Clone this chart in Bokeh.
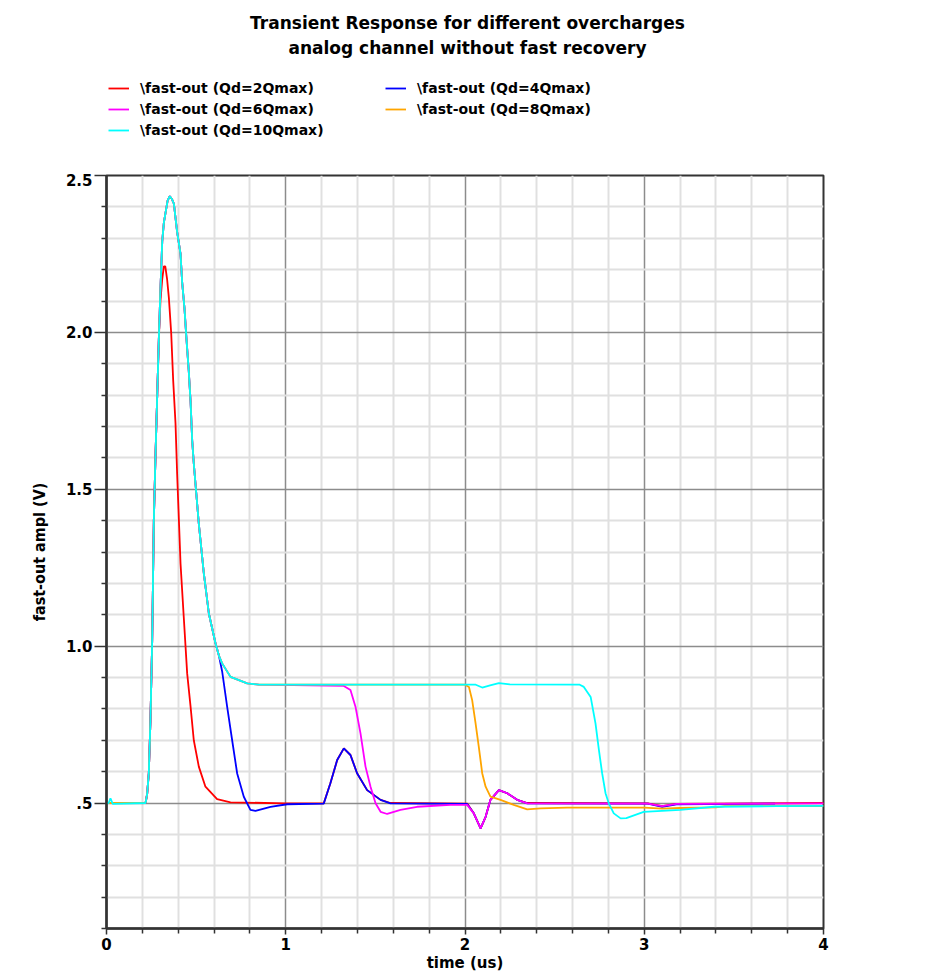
from bokeh.plotting import figure
from bokeh.models import Range1d, FixedTicker, Legend, LegendItem, Label, ColumnDataSource
from bokeh.layouts import column
from bokeh.embed import file_html
from bokeh.resources import INLINE

# ---------------- data ----------------
title_line1 = "Transient Response for different overcharges"
title_line2 = "analog channel without fast recovery"
x_label = "time (us)"
y_label = "fast-out ampl (V)"

x_major_ticks = [0, 1, 2, 3, 4]
x_minor_ticks = [0.2, 0.4, 0.6, 0.8, 1.2, 1.4, 1.6, 1.8, 2.2, 2.4, 2.6, 2.8, 3.2, 3.4, 3.6, 3.8]
y_major_ticks = [0.5, 1.0, 1.5, 2.0, 2.5]
y_tick_labels = [".5", "1.0", "1.5", "2.0", "2.5"]
y_minor_ticks = [0.1, 0.2, 0.3, 0.4, 0.6, 0.7, 0.8, 0.9, 1.1, 1.2, 1.3, 1.4, 1.6, 1.7, 1.8, 1.9,
                 2.1, 2.2, 2.3, 2.4]

labels = ["\\fast-out (Qd=2Qmax)", "\\fast-out (Qd=4Qmax)", "\\fast-out (Qd=6Qmax)",
          "\\fast-out (Qd=8Qmax)", "\\fast-out (Qd=10Qmax)"]
colors = ["#ff0000", "#0000ff", "#ff00ff", "#ffa500", "#00ffff"]

# Qd = 2Qmax
t_2q = [0.0, 0.218, 0.227, 0.236, 0.245, 0.255, 0.264, 0.274, 0.283, 0.292, 0.301, 0.311, 0.320,
        0.328, 0.338, 0.348, 0.361, 0.372, 0.385, 0.394, 0.404, 0.413, 0.431, 0.450, 0.469, 0.487,
        0.515, 0.552, 0.617, 0.692, 1.0, 1.212, 1.249, 1.287, 1.324, 1.361, 1.398, 1.454, 1.529,
        1.584, 2.012, 2.049, 2.087, 2.115, 2.142, 2.189, 2.236, 2.291, 2.347, 3.02, 3.10, 3.18, 4.0]
v_2q = [0.5, 0.5, 0.53, 0.595, 0.76, 1.02, 1.40, 1.62, 1.80, 1.98, 2.10, 2.17, 2.21,
        2.21, 2.17, 2.11, 1.997, 1.847, 1.71, 1.55, 1.40, 1.263, 1.093, 0.913, 0.807, 0.70,
        0.616, 0.552, 0.512, 0.502, 0.499, 0.499, 0.563, 0.637, 0.674, 0.653, 0.595, 0.541, 0.51,
        0.50, 0.498, 0.467, 0.419, 0.456, 0.51, 0.541, 0.531, 0.51, 0.50, 0.499, 0.49, 0.497, 0.50]

# Qd = 4Qmax
t_4q = [0.0, 0.218, 0.227, 0.236, 0.245, 0.255, 0.264, 0.274, 0.283, 0.292, 0.301, 0.311, 0.320,
        0.329, 0.341, 0.353, 0.365, 0.376, 0.394, 0.413, 0.422, 0.435, 0.446, 0.459, 0.469, 0.478,
        0.487, 0.515, 0.543, 0.571, 0.608, 0.627, 0.645, 0.673, 0.701, 0.729, 0.766, 0.803, 0.831,
        0.915, 1.008, 1.212, 1.249, 1.287, 1.324, 1.361, 1.398, 1.454, 1.529, 1.584, 2.012, 2.049,
        2.087, 2.115, 2.142, 2.189, 2.236, 2.291, 2.347, 3.02, 3.10, 3.18, 3.73]
v_4q = [0.5, 0.5, 0.53, 0.595, 0.76, 1.02, 1.40, 1.62, 1.80, 1.98, 2.14, 2.29, 2.35,
        2.38, 2.42, 2.434, 2.425, 2.41, 2.32, 2.25, 2.16, 2.077, 1.98, 1.876, 1.78, 1.656,
        1.582, 1.39, 1.232, 1.104, 1.009, 0.97, 0.92, 0.807, 0.70, 0.594, 0.52, 0.478, 0.475,
        0.488, 0.496, 0.498, 0.563, 0.637, 0.674, 0.653, 0.595, 0.541, 0.51, 0.499, 0.497, 0.467,
        0.419, 0.456, 0.51, 0.541, 0.531, 0.51, 0.499, 0.498, 0.488, 0.496, 0.498]

# Qd = 6Qmax
t_6q = [0.0, 0.218, 0.227, 0.236, 0.245, 0.255, 0.264, 0.274, 0.283, 0.292, 0.301, 0.311, 0.320,
        0.329, 0.341, 0.353, 0.365, 0.376, 0.394, 0.413, 0.422, 0.435, 0.446, 0.459, 0.469, 0.478,
        0.487, 0.515, 0.543, 0.571, 0.608, 0.627, 0.645, 0.692, 0.785, 0.85, 1.324, 1.361, 1.389,
        1.417, 1.445, 1.473, 1.501, 1.529, 1.566, 1.64, 1.733, 1.919, 2.012, 2.049, 2.087, 2.115,
        2.142, 2.189, 2.236, 2.291, 2.347, 3.02, 3.10, 3.18, 4.0]
v_6q = [0.5, 0.5, 0.53, 0.595, 0.76, 1.02, 1.40, 1.62, 1.80, 1.98, 2.14, 2.29, 2.35,
        2.38, 2.42, 2.434, 2.425, 2.41, 2.32, 2.25, 2.16, 2.077, 1.98, 1.876, 1.78, 1.656,
        1.582, 1.39, 1.232, 1.104, 1.009, 0.97, 0.945, 0.902, 0.881, 0.877, 0.873, 0.86, 0.807,
        0.722, 0.616, 0.552, 0.499, 0.472, 0.465, 0.478, 0.488, 0.494, 0.494, 0.467, 0.419, 0.456,
        0.51, 0.541, 0.531, 0.51, 0.499, 0.498, 0.49, 0.497, 0.499]

# Qd = 8Qmax
t_8q = [0.0, 0.218, 0.227, 0.236, 0.245, 0.255, 0.264, 0.274, 0.283, 0.292, 0.301, 0.311, 0.320,
        0.329, 0.341, 0.353, 0.365, 0.376, 0.394, 0.413, 0.422, 0.435, 0.446, 0.459, 0.469, 0.478,
        0.487, 0.515, 0.543, 0.571, 0.608, 0.627, 0.645, 0.692, 0.785, 0.85, 2.0, 2.022, 2.04,
        2.059, 2.077, 2.096, 2.115, 2.142, 2.198, 2.272, 2.347, 2.421, 2.57, 3.0, 3.10, 3.20, 3.40,
        3.45, 4.0]
v_8q = [0.5, 0.5, 0.53, 0.595, 0.76, 1.02, 1.40, 1.62, 1.80, 1.98, 2.14, 2.29, 2.35,
        2.38, 2.42, 2.434, 2.425, 2.41, 2.32, 2.25, 2.16, 2.077, 1.98, 1.876, 1.78, 1.656,
        1.582, 1.39, 1.232, 1.104, 1.009, 0.97, 0.945, 0.902, 0.881, 0.877, 0.877, 0.87, 0.828,
        0.754, 0.679, 0.595, 0.552, 0.52, 0.51, 0.494, 0.48, 0.483, 0.485, 0.485, 0.482, 0.484, 0.486,
        0.49, 0.49]

# Qd = 10Qmax
t_10q = [0.0, 0.012, 0.022, 0.035, 0.218, 0.227, 0.236, 0.245, 0.255, 0.264, 0.274, 0.283, 0.292,
         0.301, 0.311, 0.320, 0.329, 0.341, 0.353, 0.365, 0.376, 0.394, 0.413, 0.422, 0.435, 0.446,
         0.459, 0.469, 0.478, 0.487, 0.515, 0.543, 0.571, 0.608, 0.627, 0.645, 0.692, 0.785, 0.85,
         2.06, 2.096, 2.14, 2.189, 2.25, 2.64, 2.663, 2.701, 2.728, 2.747, 2.765, 2.784, 2.802, 2.83,
         2.868, 2.90, 2.997, 3.2, 3.39, 3.74, 4.0]
v_10q = [0.5, 0.5, 0.515, 0.497, 0.5, 0.53, 0.595, 0.76, 1.02, 1.40, 1.62, 1.80, 1.98,
         2.14, 2.29, 2.35, 2.38, 2.42, 2.434, 2.425, 2.41, 2.32, 2.25, 2.16, 2.077, 1.98,
         1.876, 1.78, 1.656, 1.582, 1.39, 1.232, 1.104, 1.009, 0.97, 0.945, 0.902, 0.881, 0.877,
         0.877, 0.868, 0.875, 0.882, 0.878, 0.877, 0.87, 0.838, 0.754, 0.669, 0.595, 0.531, 0.499, 0.467,
         0.451, 0.452, 0.472, 0.478, 0.488, 0.49, 0.491]

series_t = [t_2q, t_4q, t_6q, t_8q, t_10q]
series_v = [v_2q, v_4q, v_6q, v_8q, v_10q]

LEFT, FRAME_W, RIGHT = 106, 717, 95
TOP_H = 173
sources = [ColumnDataSource(data=dict(t=t, v=v)) for t, v in zip(series_t, series_v)]

# ---------------- header figure: title lines and legend (pixel coordinates) ----------------
head = figure(frame_width=FRAME_W, frame_height=TOP_H,
              x_range=Range1d(LEFT, LEFT + FRAME_W), y_range=Range1d(0, TOP_H),
              output_backend="svg", toolbar_location=None,
              min_border_left=LEFT, min_border_right=RIGHT, min_border_top=0,
              min_border_bottom=0, x_axis_location=None, y_axis_location=None)
head.grid.visible = False
head.outline_line_color = None
head.background_fill_color = "white"
head.border_fill_color = "white"

for txt, ypix in ((title_line1, 22), (title_line2, 47)):
    head.add_layout(Label(x=467, y=TOP_H - ypix, text=txt, text_align="center",
                          text_baseline="middle", text_font="DejaVu Sans",
                          text_font_size="17px", text_font_style="bold", text_color="black"))

# legend renderers share the series sources; in this pixel-space header they fall
# outside the visible range, so only their legend glyphs are seen
legend_items = []
for src, c, lab in zip(sources, colors, labels):
    proxy = head.line("t", "v", source=src, line_color=c, line_width=1.8)
    legend_items.append(LegendItem(label=lab, renderers=[proxy]))
# column-major fill: 2Q, 6Q, 10Q in the first column, 4Q, 8Q in the second
order = [0, 2, 4, 1, 3]
legend = Legend(items=[legend_items[i] for i in order], location=(2, TOP_H - 140),
                orientation="vertical", ncols=2,
                padding=0, spacing=1, margin=0,
                glyph_width=21, glyph_height=20, label_standoff=11, label_width=244,
                label_height=20,
                label_text_font="DejaVu Sans", label_text_font_style="bold",
                label_text_font_size="14px", label_text_color="black",
                border_line_color=None, background_fill_alpha=0)
head.add_layout(legend, "center")

# ---------------- main figure ----------------
p = figure(frame_width=FRAME_W, frame_height=753,
           x_range=Range1d(0, 4), y_range=Range1d(0.1, 2.5),
           output_backend="svg", toolbar_location=None,
           min_border_left=LEFT, min_border_right=RIGHT, min_border_top=2, min_border_bottom=44)
p.background_fill_color = "white"
p.border_fill_color = "white"
p.outline_line_color = "#333333"
p.outline_line_width = 2

# axes
p.xaxis.ticker = FixedTicker(ticks=x_major_ticks, minor_ticks=x_minor_ticks)
p.yaxis.ticker = FixedTicker(ticks=y_major_ticks, minor_ticks=y_minor_ticks)
p.yaxis.major_label_overrides = dict(zip(y_major_ticks, y_tick_labels))
for ax in (p.xaxis[0], p.yaxis[0]):
    ax.axis_line_color = "#333333"
    ax.axis_line_width = 2.5
    ax.major_tick_line_color = "#333333"
    ax.minor_tick_line_color = "#333333"
    ax.major_tick_line_width = 1.5
    ax.minor_tick_line_width = 1.5
    ax.major_tick_in = 0
    ax.minor_tick_in = 0
    ax.major_label_text_font = "DejaVu Sans"
    ax.major_label_text_font_style = "bold"
    ax.major_label_text_font_size = "15px"
    ax.major_label_text_color = "black"
    ax.axis_label_text_color = "black"
    ax.axis_label_text_font_style = "bold"
p.yaxis.major_tick_out = 12
p.yaxis.minor_tick_out = 5
p.yaxis.major_label_standoff = 2
p.yaxis.axis_label = y_label
p.yaxis.axis_label_text_font = "DejaVu Sans Condensed"
p.yaxis.axis_label_text_font_size = "16px"
p.yaxis.axis_label_standoff = 14
p.xaxis.major_tick_out = 6
p.xaxis.minor_tick_out = 5
p.xaxis.major_label_standoff = 3
p.xaxis.axis_label = x_label
p.xaxis.axis_label_text_font = "DejaVu Sans"
p.xaxis.axis_label_text_font_size = "15px"
p.xaxis.axis_label_standoff = 1

# grids
p.xgrid.ticker = FixedTicker(ticks=x_major_ticks, minor_ticks=x_minor_ticks)
p.ygrid.ticker = FixedTicker(ticks=y_major_ticks, minor_ticks=y_minor_ticks)
for g in (p.xgrid[0], p.ygrid[0]):
    g.grid_line_color = "#8c8c8c"
    g.grid_line_width = 1.5
    g.grid_line_alpha = 1.0
    g.minor_grid_line_color = "#e0e0e0"
    g.minor_grid_line_width = 2

# lines
for src, c in zip(sources, colors):
    p.line("t", "v", source=src, line_color=c, line_width=1.8)

layout = column(head, p, spacing=0)
open("out.html", "w").write(file_html(layout, INLINE))
